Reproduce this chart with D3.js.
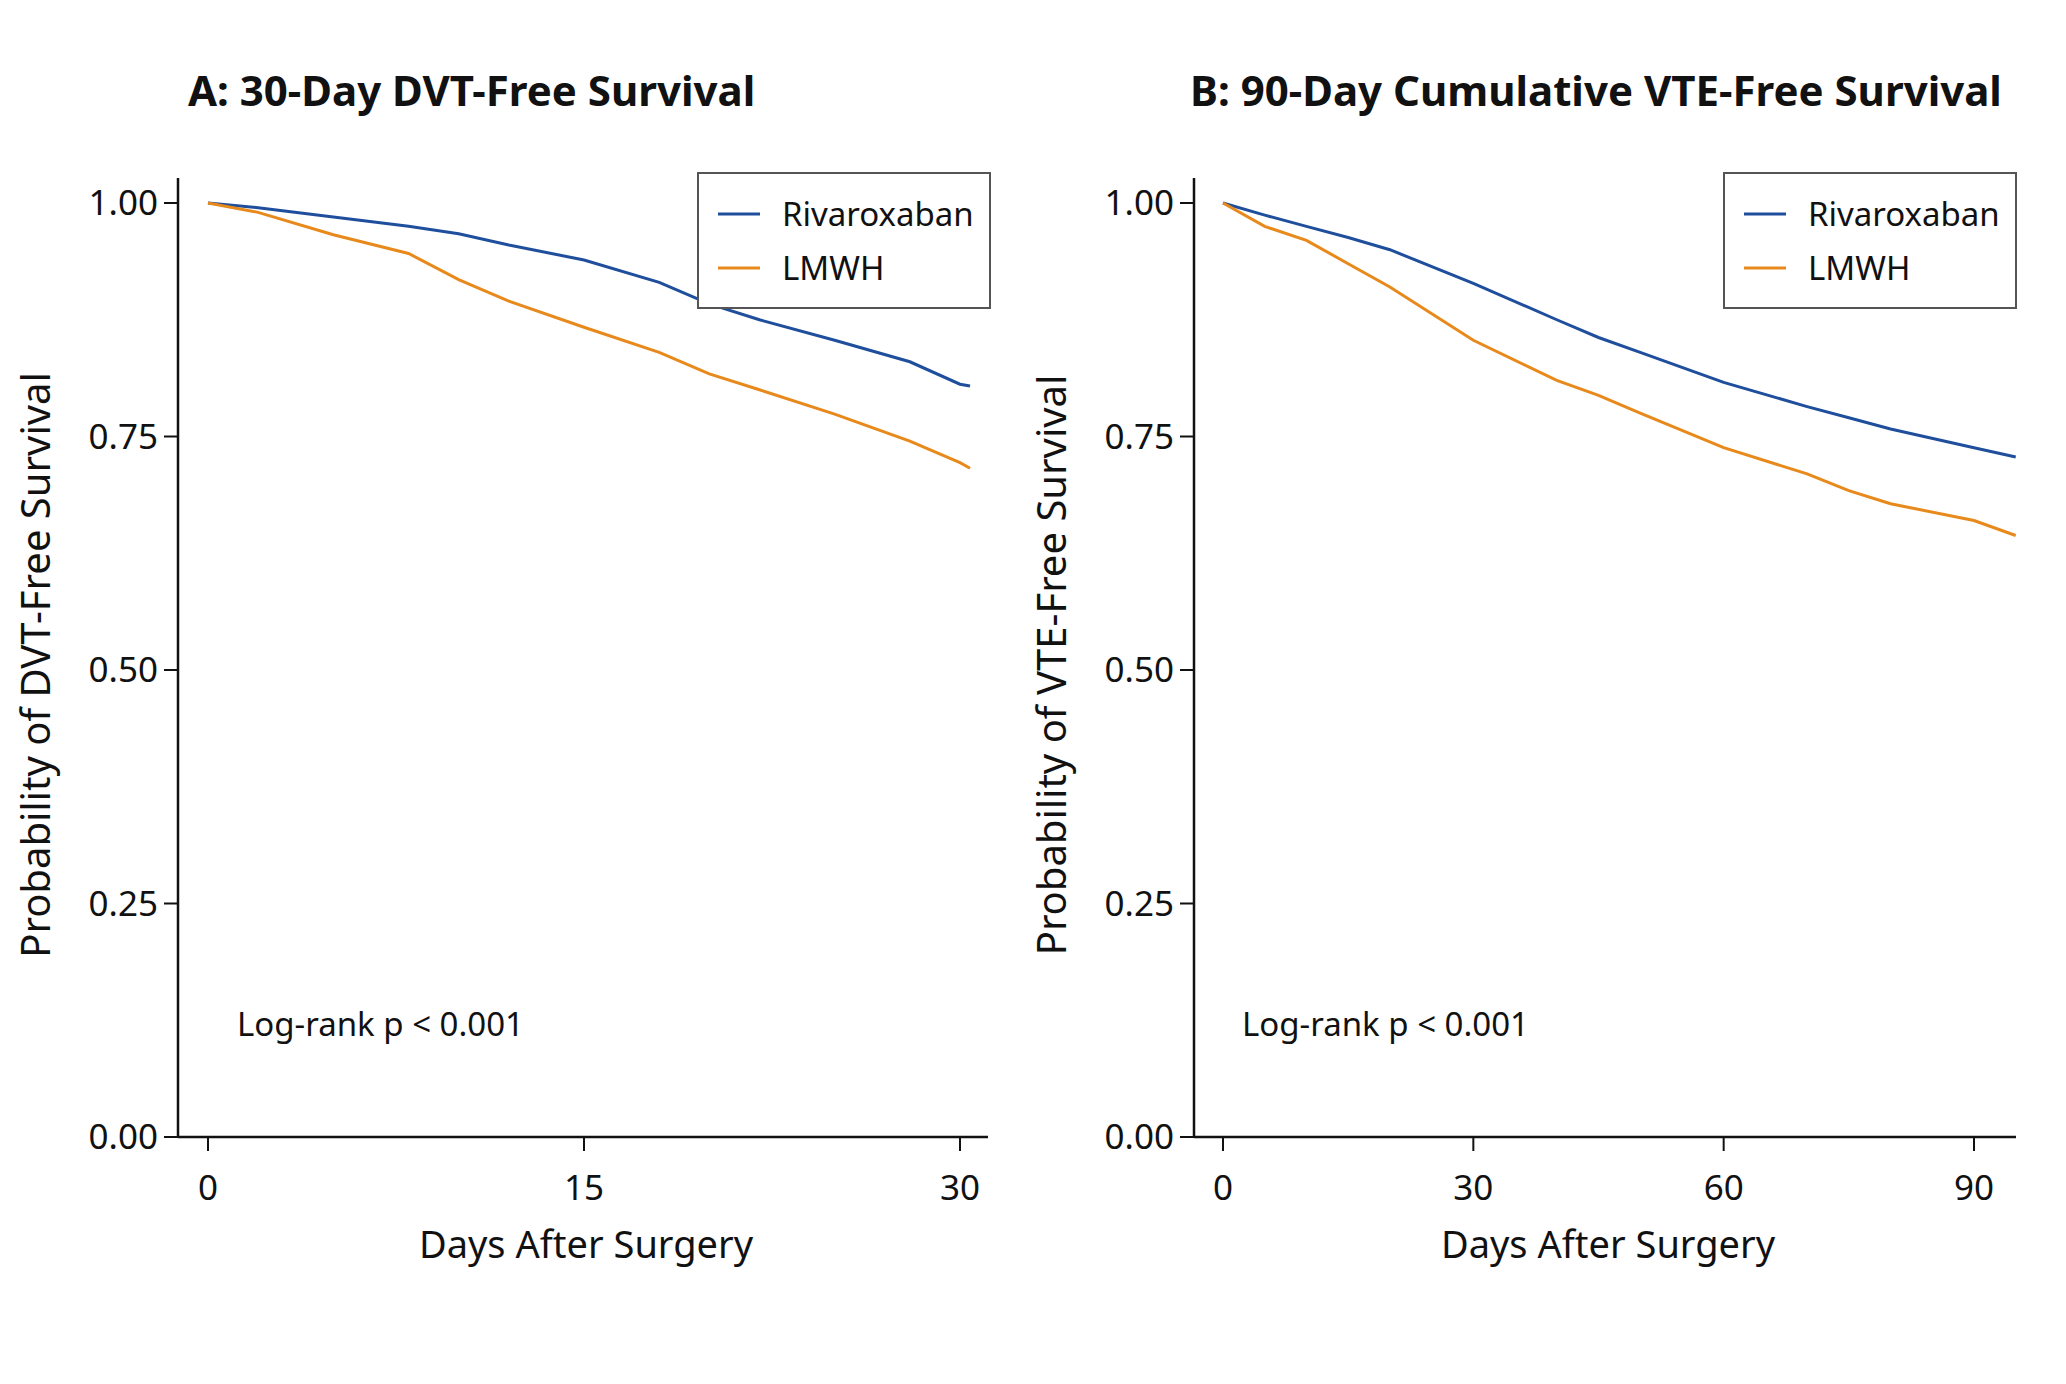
<!DOCTYPE html>
<html><head><meta charset="utf-8">
<script src="https://cdn.jsdelivr.net/npm/d3@7"></script>
<style>body{margin:0;background:#fff}text{font-family:"Noto Sans","Open Sans",sans-serif;fill:#111}</style>
</head><body>
<script>
const yTicks=[0,0.25,0.5,0.75,1.0];
const aTicksX=[0,15,30];
const bTicksX=[0,30,60,90];
const aDays=[0,2,5,8,10,12,15,18,20,22,25,28,30,30.4];
const aRiva=[1,0.995,0.985,0.975,0.967,0.955,0.939,0.915,0.892,0.875,0.853,0.83,0.806,0.804];
const aLmwh=[1,0.99,0.966,0.946,0.918,0.895,0.867,0.84,0.817,0.8,0.774,0.745,0.722,0.716];
const bDays=[0,5,10,15,20,30,40,45,50,60,70,75,80,90,95];
const bRiva=[1,0.987,0.975,0.963,0.95,0.914,0.875,0.856,0.84,0.808,0.782,0.77,0.758,0.738,0.728];
const bLmwh=[1,0.975,0.96,0.935,0.91,0.853,0.81,0.794,0.775,0.738,0.71,0.692,0.678,0.66,0.644];
const seriesNames=["Rivaroxaban","LMWH"];
const colors=["#1f4f9c","#e8891c"];

const svg=d3.select("body").append("svg").attr("width",2066).attr("height",1384);
function panel(o){
  const x=d3.scaleLinear().domain([0,o.xmax]).range([o.x0,o.x1]);
  const y=d3.scaleLinear().domain([0,1]).range([1137,203]);
  const g=svg.append("g");
  g.append("line").attr("x1",o.ax).attr("x2",o.ax).attr("y1",178).attr("y2",1137).attr("stroke","#111").attr("stroke-width",2.5);
  g.append("line").attr("x1",o.ax).attr("x2",o.xend).attr("y1",1137).attr("y2",1137).attr("stroke","#111").attr("stroke-width",2.5);
  yTicks.forEach(t=>{
    g.append("line").attr("x1",o.ax-14).attr("x2",o.ax).attr("y1",y(t)).attr("y2",y(t)).attr("stroke","#111").attr("stroke-width",2);
    g.append("text").attr("x",o.ax-20).attr("y",y(t)).attr("dy","0.35em").attr("text-anchor","end").attr("font-size",35).text(t.toFixed(2));
  });
  o.xt.forEach(t=>{
    g.append("line").attr("x1",x(t)).attr("x2",x(t)).attr("y1",1137).attr("y2",1151).attr("stroke","#111").attr("stroke-width",2);
    g.append("text").attr("x",x(t)).attr("y",1200).attr("text-anchor","middle").attr("font-size",35).text(t);
  });
  const line=d3.line().x(d=>x(d[0])).y(d=>y(d[1]));
  [o.r,o.l].forEach((s,i)=>{
    g.append("path").datum(o.days.map((d,j)=>[d,s[j]])).attr("d",line).attr("fill","none").attr("stroke",colors[i]).attr("stroke-width",3);
  });
  g.append("text").attr("x",o.title).attr("y",106).attr("font-size",42).attr("font-weight","bold").text(o.tt);
  g.append("text").attr("x",(o.ax+o.xend)/2+3).attr("y",1258).attr("text-anchor","middle").attr("font-size",38).text("Days After Surgery");
  g.append("text").attr("transform",`translate(${o.ax-128},665) rotate(-90)`).attr("text-anchor","middle").attr("font-size",40).text(o.yl);
  g.append("text").attr("x",o.lr).attr("y",1036).attr("font-size",33).text("Log-rank p < 0.001");
  g.append("rect").attr("x",o.lx).attr("y",173).attr("width",292).attr("height",135).attr("fill","#fff").attr("stroke","#555").attr("stroke-width",2);
  seriesNames.forEach((n,i)=>{
    const yy=214+i*54;
    g.append("line").attr("x1",o.lx+20).attr("x2",o.lx+62).attr("y1",yy).attr("y2",yy).attr("stroke",colors[i]).attr("stroke-width",3);
    g.append("text").attr("x",o.lx+84).attr("y",yy).attr("dy","0.35em").attr("font-size",33).text(n);
  });
}
panel({ax:178,x0:208,x1:960,xmax:30,xend:988,xt:aTicksX,days:aDays,r:aRiva,l:aLmwh,title:188,tt:"A: 30-Day DVT-Free Survival",yl:"Probability of DVT-Free Survival",lr:237,lx:698});
panel({ax:1194,x0:1223,x1:1974,xmax:90,xend:2016,xt:bTicksX,days:bDays,r:bRiva,l:bLmwh,title:1190,tt:"B: 90-Day Cumulative VTE-Free Survival",yl:"Probability of VTE-Free Survival",lr:1242,lx:1724});
</script>
</body></html>
